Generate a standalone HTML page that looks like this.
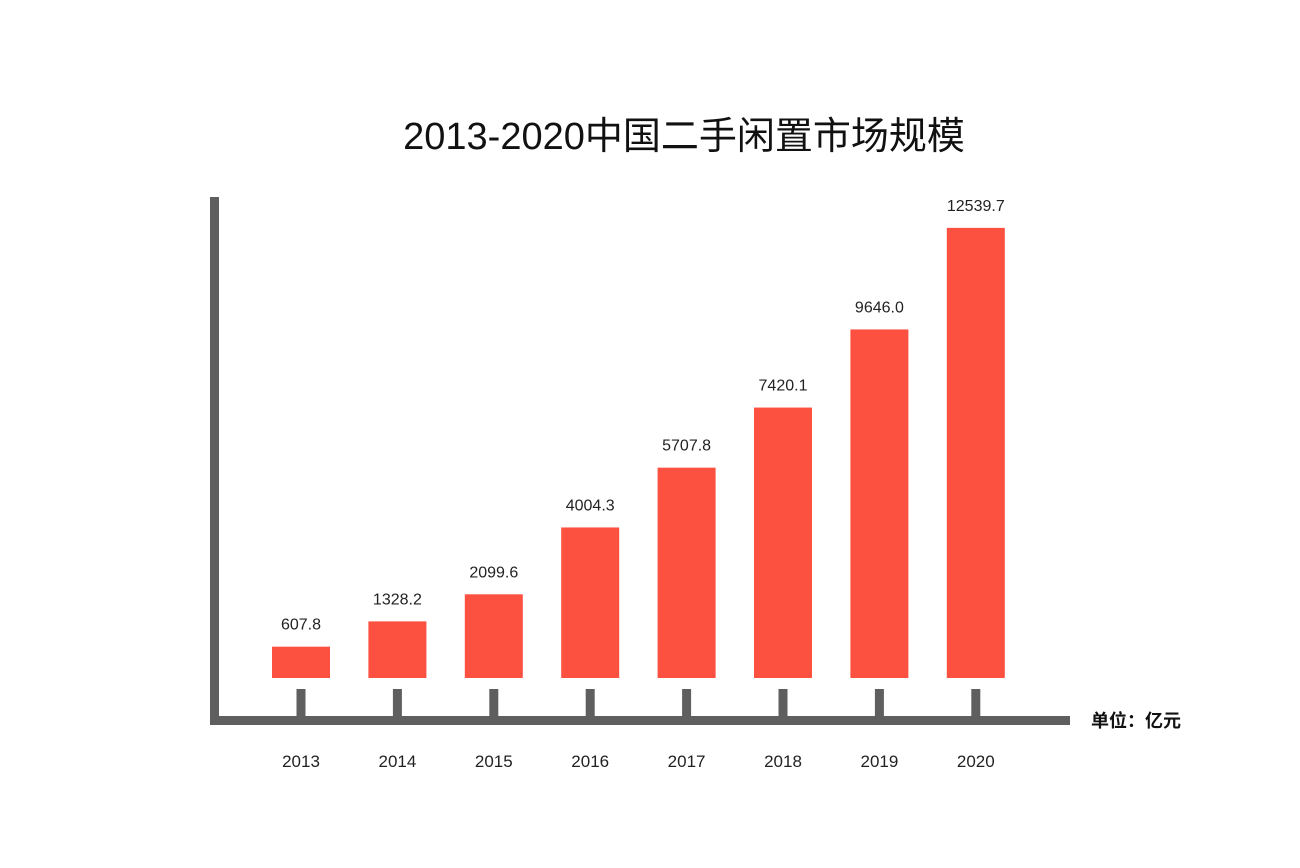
<!DOCTYPE html>
<html><head><meta charset="utf-8">
<style>
html,body{margin:0;padding:0;background:#fff;}
svg{display:block;}
text{font-family:"Liberation Sans","Noto Sans CJK SC",sans-serif;}
</style></head>
<body>
<svg id="chart" width="1300" height="868" viewBox="0 0 1300 868">
<rect width="1300" height="868" fill="#fff"/>
<text x="684" y="149" text-anchor="middle" font-size="38" fill="#111">2013-2020中国二手闲置市场规模</text>
<rect x="210" y="197" width="9" height="528" fill="#5f5f5f"/>
<rect x="210" y="716" width="860" height="9" fill="#5f5f5f"/>
<text x="1091" y="727" font-size="18" font-weight="bold" fill="#111">单位：亿元</text>
<g id="marks"></g>
</svg>
<script>
const categories = ["2013","2014","2015","2016","2017","2018","2019","2020"];
const values = [607.8,1328.2,2099.6,4004.3,5707.8,7420.1,9646.0,12539.7];
const valueLabels = ["607.8","1328.2","2099.6","4004.3","5707.8","7420.1","9646.0","12539.7"];

const ns = "http://www.w3.org/2000/svg";
const g = document.getElementById("marks");
const baseY = 678, barW = 58;
function xScale(i){ return 301 + i * 96.4; }
function hScale(v){ return 10 + v * 0.0351; }
function mk(tag, attrs){ const e = document.createElementNS(ns, tag); for (const k in attrs) e.setAttribute(k, attrs[k]); g.appendChild(e); return e; }
categories.forEach((c, i) => {
  const cx = xScale(i), h = hScale(values[i]);
  const bar = mk("rect", {x: cx - barW/2, y: baseY - h, width: barW, height: h, fill: "#fc5140"});
  
  
  const tick = mk("rect", {x: cx - 4.5, y: 689, width: 9, height: 36, fill: "#5f5f5f"});
  
  
  const vl = mk("text", {x: cx, y: baseY - h - 17, "text-anchor": "middle", "font-size": "16", fill: "#222"});
  vl.textContent = valueLabels[i];
  
  
  const xl = mk("text", {x: cx, y: 767, "text-anchor": "middle", "font-size": "17", fill: "#222"});
  xl.textContent = c;
  
  
});
</script>
</body></html>
